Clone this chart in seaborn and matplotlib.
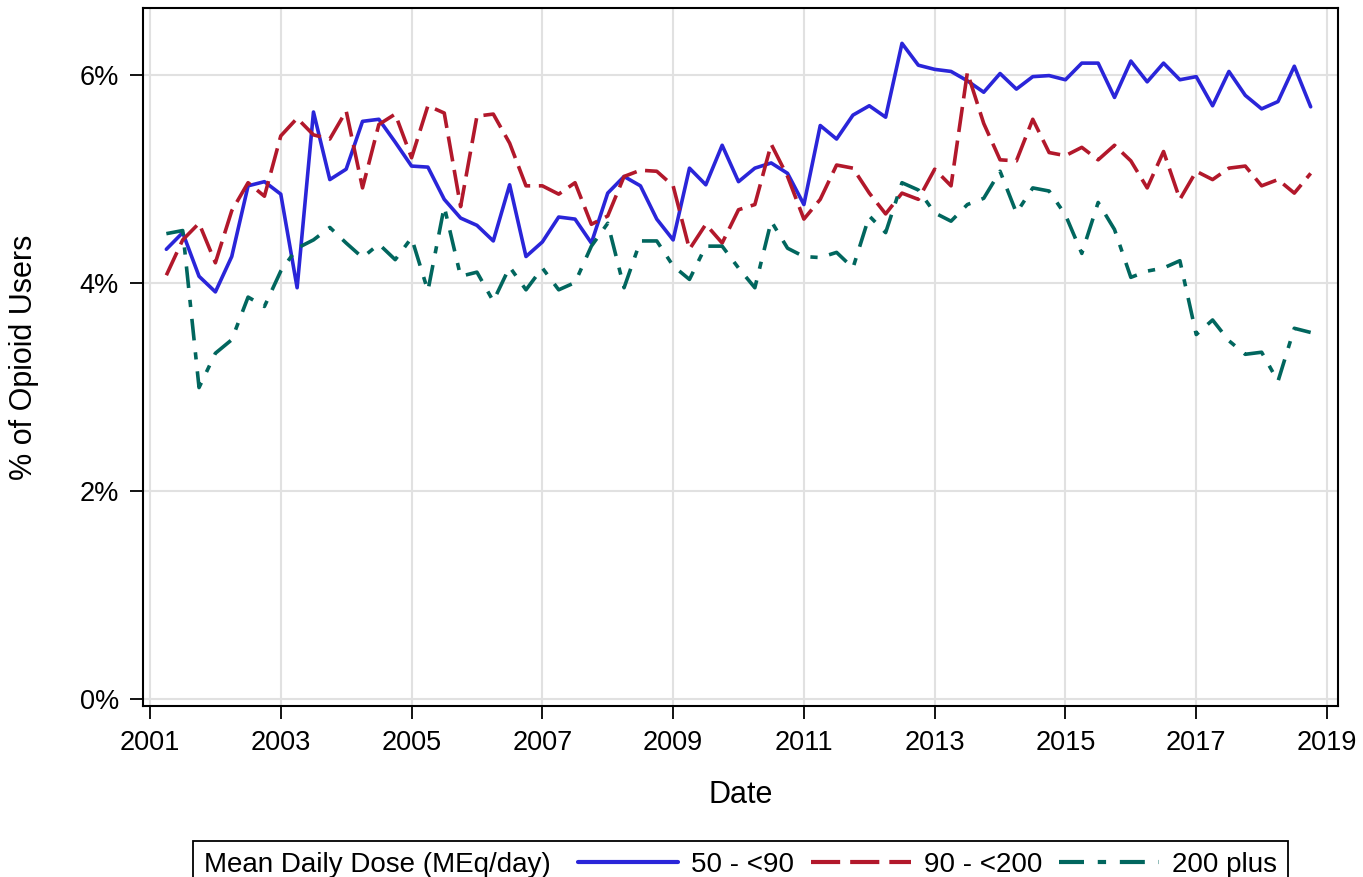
import numpy as np
import pandas as pd
import matplotlib
matplotlib.use("Agg")
import matplotlib.pyplot as plt
import seaborn as sns
from matplotlib.ticker import FuncFormatter
from matplotlib.offsetbox import HPacker

# dados trimestrais, 2001 T2 ate 2018 T4
datas = 2001.25 + 0.25 * np.arange(71)

dose_50_90 = [4.32, 4.48, 4.06, 3.91, 4.25, 4.93, 4.97, 4.85, 3.95, 5.64,
              4.99, 5.09, 5.55, 5.57, 5.35, 5.12, 5.11, 4.80, 4.62, 4.55,
              4.40, 4.94, 4.25, 4.39, 4.63, 4.61, 4.38, 4.86, 5.02, 4.93,
              4.61, 4.41, 5.10, 4.94, 5.32, 4.97, 5.10, 5.15, 5.05, 4.75,
              5.51, 5.38, 5.61, 5.70, 5.59, 6.30, 6.09, 6.05, 6.03, 5.94,
              5.83, 6.01, 5.86, 5.98, 5.99, 5.95, 6.11, 6.11, 5.78, 6.13,
              5.93, 6.11, 5.95, 5.98, 5.70, 6.03, 5.80, 5.67, 5.74, 6.08,
              5.69]

dose_90_200 = [4.07, 4.41, 4.57, 4.19, 4.69, 4.96, 4.83, 5.41, 5.58, 5.42,
               5.38, 5.65, 4.91, 5.52, 5.62, 5.20, 5.70, 5.63, 4.73, 5.60,
               5.62, 5.34, 4.93, 4.93, 4.85, 4.96, 4.56, 4.64, 5.02, 5.08,
               5.07, 4.93, 4.32, 4.56, 4.38, 4.70, 4.75, 5.33, 5.02, 4.61,
               4.80, 5.13, 5.10, 4.86, 4.66, 4.86, 4.80, 5.09, 4.93, 6.02,
               5.53, 5.18, 5.17, 5.57, 5.25, 5.22, 5.30, 5.18, 5.32, 5.17,
               4.91, 5.26, 4.80, 5.07, 4.99, 5.10, 5.12, 4.93, 4.99, 4.86,
               5.05]

dose_200_mais = [4.47, 4.50, 2.99, 3.32, 3.45, 3.86, 3.77, 4.11, 4.33, 4.41,
                 4.53, 4.38, 4.24, 4.37, 4.22, 4.43, 3.92, 4.73, 4.06, 4.10,
                 3.82, 4.15, 3.93, 4.14, 3.93, 4.00, 4.35, 4.57, 3.95, 4.40,
                 4.40, 4.16, 4.03, 4.35, 4.35, 4.14, 3.95, 4.59, 4.33, 4.25,
                 4.24, 4.29, 4.14, 4.64, 4.48, 4.96, 4.89, 4.67, 4.59, 4.75,
                 4.81, 5.07, 4.67, 4.91, 4.88, 4.65, 4.28, 4.77, 4.51, 4.05,
                 4.11, 4.14, 4.21, 3.50, 3.64, 3.44, 3.31, 3.33, 3.05, 3.56,
                 3.52]

grupos = ["50 - <90", "90 - <200", "200 plus"]
cores = ["#2A25D9", "#B2182B", "#01665E"]
anos_ticks = list(range(2001, 2020, 2))

df = pd.DataFrame({
    "Date": np.concatenate([datas, datas, datas]),
    "Pct": dose_50_90 + dose_90_200 + dose_200_mais,
    "Dose": np.repeat(grupos, len(datas)),
})

sns.set_style("whitegrid")
plt.rcParams["font.family"] = ["Liberation Sans", "DejaVu Sans"]
plt.rcParams["text.color"] = "black"
plt.rcParams["axes.labelcolor"] = "black"
plt.rcParams["xtick.color"] = "black"
plt.rcParams["ytick.color"] = "black"

fig = plt.figure(figsize=(13.63, 8.77), dpi=100)
ax = fig.add_axes([143 / 1363, 1 - 706 / 877, (1338 - 143) / 1363, (706 - 8) / 877])

tracos = {"50 - <90": "", "90 - <200": (7, 2.4), "200 plus": (6, 3.3, 2, 3.3)}
sns.lineplot(data=df, x="Date", y="Pct", hue="Dose", style="Dose",
             palette=dict(zip(grupos, cores)), dashes=tracos,
             hue_order=grupos, style_order=grupos, linewidth=2.6, ax=ax)

handles, labels = ax.get_legend_handles_labels()
ax.get_legend().remove()

ax.set_xlim(2000.893, 2019.168)
ax.set_ylim(-0.072, 6.64)
ax.set_xticks(anos_ticks)
ax.set_xticklabels([str(a) for a in anos_ticks])
ax.set_yticks([0, 2, 4, 6])
ax.yaxis.set_major_formatter(FuncFormatter(lambda v, p: f"{v:.0f}%"))

ax.grid(True, color="#E1E1E1", linewidth=1.5)
for s in ax.spines.values():
    s.set_color("black")
    s.set_linewidth(1.5)
ax.tick_params(axis="both", direction="out", length=9.4, width=1.3,
               color="black", labelsize=19.5, pad=8, bottom=True, left=True)

ax.set_xlabel("Date", fontsize=22)
ax.set_ylabel("% of Opioid Users", fontsize=22)
ax.xaxis.set_label_coords(0.5004, -0.106)
ax.yaxis.set_label_coords(-0.087, 0.5)

leg = fig.legend(handles, labels, loc="upper center",
                 bbox_to_anchor=(0.5433, 1 - 827 / 877), ncol=3,
                 title="Mean Daily Dose (MEq/day)", title_fontsize=20,
                 fontsize=20, frameon=True, fancybox=False, shadow=False,
                 edgecolor="black", framealpha=1, handlelength=3.6,
                 handletextpad=0.47, columnspacing=0.6, borderpad=0.4)
leg.get_frame().set_linewidth(1.3)
for h in leg.legend_handles:
    h.set_linewidth(3)

# titulo da legenda na mesma linha dos itens
leg._legend_box = HPacker(pad=0.4 * 20, sep=20, align="center",
                          children=[leg._legend_title_box, leg._legend_handle_box])
leg._legend_box.set_figure(fig)
leg._legend_box.set_offset(leg._findoffset)

fig.savefig("out.png", dpi=100)
